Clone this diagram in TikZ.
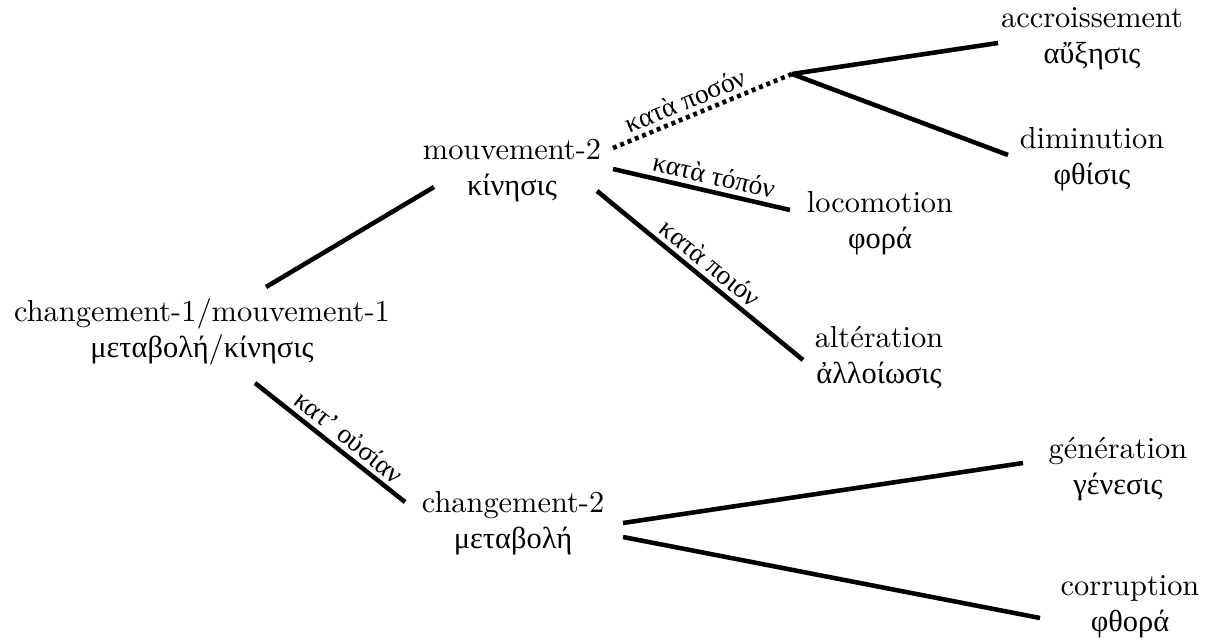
\documentclass[tikz,border=0pt]{standalone}
\usepackage{fontspec}
% Greek words set in a serif face that carries polytonic Greek
\newfontfamily\greekfont{Liberation Serif}
\newcommand\gr[1]{{\greekfont #1}}
\begin{document}
\begin{tikzpicture}[x=0.329pt,y=-0.329pt,
  term/.style={align=center,inner sep=0pt,font=\fontsize{10}{12}\selectfont},
  link/.style={line width=1.5pt},
  dotlink/.style={line width=1.5pt,dash pattern=on 1.3pt off 1.3pt},
  lbl/.style={above,sloped,inner sep=1.5pt,font=\small}]
\useasboundingbox (0,0) rectangle (1211,643);

% terms: French name over Greek name
\node[term] (root) at (202,332) {\strut changement-1/mouvement-1\\\strut\gr{μεταβολή}/\gr{κίνησις}};
\node[term] (mv2)  at (512,170) {\strut mouvement-2\\\strut\gr{κίνησις}};
\node[term] (ch2)  at (513,523) {\strut changement-2\\\strut\gr{μεταβολή}};
\node[term] (acc)  at (1092,38) {\strut accroissement\\\strut\gr{αὔξησις}};
\node[term] (dim)  at (1092,159) {\strut diminution\\\strut\gr{φθίσις}};
\node[term] (loc)  at (880,223) {\strut locomotion\\\strut\gr{φορά}};
\node[term] (alt)  at (879,358) {\strut altération\\\strut\gr{ἀλλοίωσις}};
\node[term] (gen)  at (1118,469) {\strut génération\\\strut\gr{γένεσις}};
\node[term] (cor)  at (1130,606) {\strut corruption\\\strut\gr{φθορά}};
\coordinate (br) at (792,74);

% branches
\draw[link] ([shift={(64,-45)}]root.center) -- ([shift={(-78,17)}]mv2.center);
\draw[link] ([shift={(53,51)}]root.center) -- ([shift={(-108,-21)}]ch2.center)
  node[lbl,pos=0.56] {\gr{κατ’ οὐσίαν}};
\draw[dotlink] ([shift={(101,-22)}]mv2.center) -- (br)
  node[lbl,pos=0.44] {\gr{κατὰ ποσόν}};
\draw[link] (br) -- ([shift={(-94,5)}]acc.center);
\draw[link] (br) -- ([shift={(-84,-4)}]dim.center);
\draw[link] ([shift={(101,-1)}]mv2.center) -- ([shift={(-90,-13)}]loc.center)
  node[lbl,pos=0.55] {\gr{κατὰ τόπόν}};
\draw[link] ([shift={(85,21)}]mv2.center) -- ([shift={(-76,2)}]alt.center)
  node[lbl,pos=0.5] {\gr{κατὰ ποιόν}};
\draw[link] ([shift={(110,0)}]ch2.center) -- ([shift={(-95,-6)}]gen.center);
\draw[link] ([shift={(110,14)}]ch2.center) -- ([shift={(-90,12)}]cor.center);
\end{tikzpicture}
\end{document}
